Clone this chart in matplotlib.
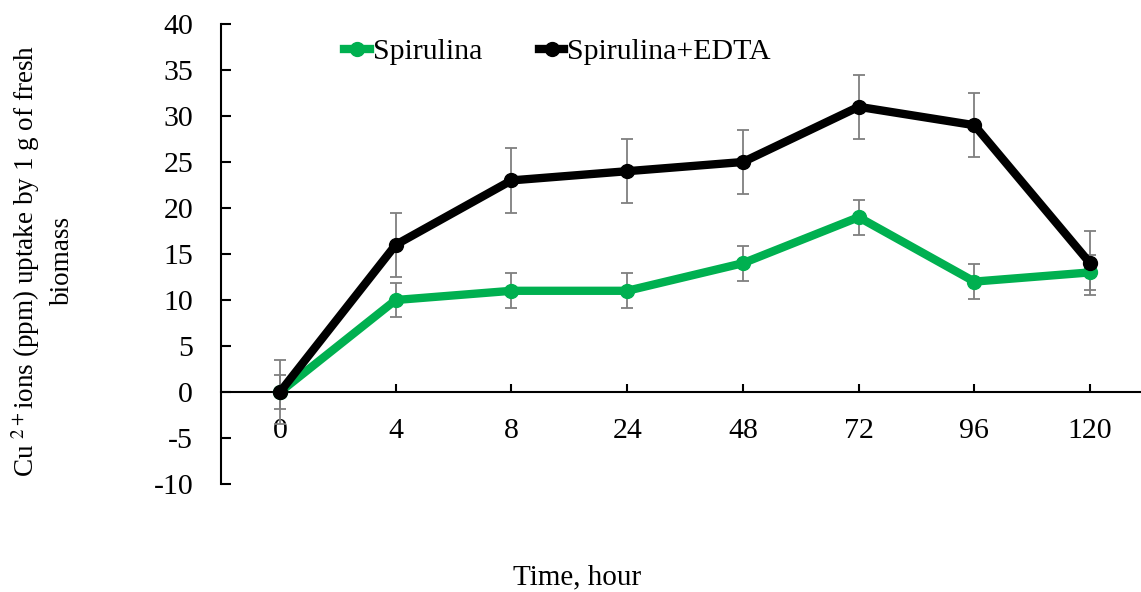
import numpy as np
import matplotlib.pyplot as plt

plt.rcParams['font.family'] = ['Liberation Serif', 'DejaVu Serif']
plt.rcParams['mathtext.fontset'] = 'stix'
plt.rcParams['axes.unicode_minus'] = False

# sampling times (categorical axis) and copper uptake means / error bars
hours = ['0', '4', '8', '24', '48', '72', '96', '120']
spirulina = [0, 10, 11, 11, 14, 19, 12, 13]
spirulina_err = [1.9, 1.9, 1.9, 1.9, 1.9, 1.9, 1.9, 1.9]
edta = [0, 16, 23, 24, 25, 31, 29, 14]
edta_err = [3.5, 3.5, 3.5, 3.5, 3.5, 3.5, 3.5, 3.5]

green = '#00B050'
fs = 21.5

fig = plt.figure(figsize=(11.41, 5.92), dpi=100)
ax = fig.add_axes([221 / 1141, 108 / 592, 920 / 1141, 460 / 592])

x = np.arange(len(hours))

for vals, errs in [(spirulina, spirulina_err), (edta, edta_err)]:
    ax.errorbar(x, vals, yerr=errs, fmt='none', ecolor='#7f7f7f',
                elinewidth=1.3, capsize=4, capthick=1.3, zorder=2)

ax.plot(x, spirulina, color=green, lw=6, marker='o', ms=10,
        label='Spirulina', zorder=3)
ax.plot(x, edta, color='black', lw=6, marker='o', ms=10,
        label='Spirulina+EDTA', zorder=4)

ax.set_xlim(-0.51, 7.44)
ax.set_ylim(-10, 40)
ax.set_yticks(np.arange(-10, 41, 5))
ax.set_xticks(x)
ax.set_xticklabels(hours)

ax.spines['top'].set_visible(False)
ax.spines['right'].set_visible(False)
ax.spines['bottom'].set_position(('data', 0))
for s in ('left', 'bottom'):
    ax.spines[s].set_linewidth(1.5)

ax.tick_params(axis='y', direction='in', length=7, width=1.5,
               labelsize=fs, pad=20)
ax.tick_params(axis='x', direction='in', length=6, width=1.5,
               labelsize=fs, pad=19)

leg = ax.legend(loc='upper left', bbox_to_anchor=(0.105, 1.027), ncol=2,
                frameon=False, fontsize=fs, handlelength=0.85,
                handletextpad=0.1, columnspacing=1.9, markerscale=1.0)

fig.text(0.037, 0.56,
         'Cu $^{2+}$ions (ppm) uptake by 1 g of fresh\nbiomass',
         rotation=90, ha='center', va='center', multialignment='center',
         fontsize=19.5, linespacing=1.4)
fig.text(0.506, 0.025, 'Time, hour', ha='center', va='center', fontsize=21)

fig.savefig('out.png', dpi=100)
